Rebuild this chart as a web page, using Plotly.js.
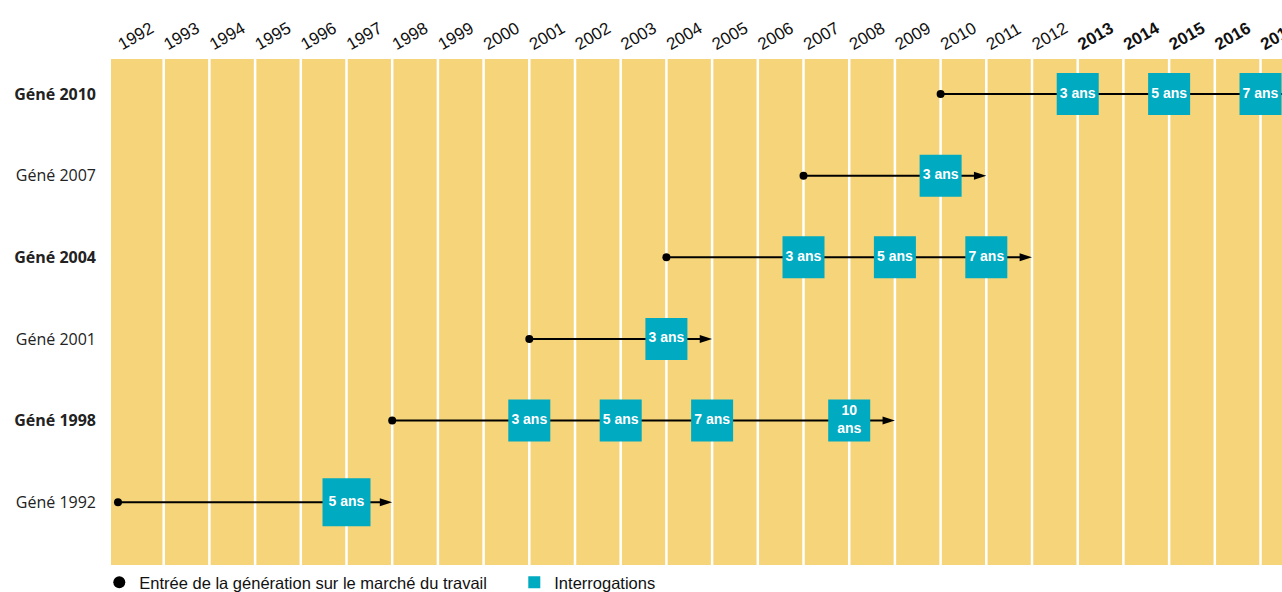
<!DOCTYPE html>
<html><head><meta charset="utf-8">
<script src="https://cdn.plot.ly/plotly-3.0.1.min.js"></script>
<style>html,body{margin:0;padding:0;background:#fff}#chart{width:1282px;height:592px}</style>
</head><body><div id="chart"></div>
<script>
// ---- data ----
const yearTicks = [1992,1993,1994,1995,1996,1997,1998,1999,2000,2001,2002,2003,2004,2005,2006,2007,2008,2009,2010,2011,2012,2013,2014,2015,2016,2017];
const boldYears = [2013,2014,2015,2016,2017];
const generations = ['Géné 1992','Géné 1998','Géné 2001','Géné 2004','Géné 2007','Géné 2010'];
const boldGenerations = ['Géné 1998','Géné 2004','Géné 2010'];
const entryYears = [1992,1998,2001,2004,2007,2010];
const surveyDelays = [[5],[3,5,7,10],[3],[3,5,7],[3],[3,5,7]];
const arrowEndYears = [1998,2009,2005,2012,2011,2018];
const legendEntry = 'Entrée de la génération sur le marché du travail';
const legendSurvey = 'Interrogations';

// ---- styles ----
const YELLOW = '#F6D479';
const TEAL = '#00AAC1';
const rowIdx = generations.map((g, i) => i);

// timeline lines with arrows
const lx = [], ly = [], lsym = [], lsize = [];
entryYears.forEach((e, i) => {
  lx.push(e, arrowEndYears[i], null);
  ly.push(i, i, null);
  lsym.push('circle', 'arrow', 'circle');
  lsize.push(8, 13, 0);
});
const lineTrace = {
  type: 'scatter', mode: 'lines+markers', x: lx, y: ly, showlegend: false,
  line: {color: '#000', width: 2}, cliponaxis: false, hoverinfo: 'skip',
  marker: {symbol: lsym, size: lsize, color: '#000', opacity: 1, line: {width: 0}, angleref: 'previous'}
};
const dotTrace = {
  type: 'scatter', mode: 'markers', x: entryYears, y: rowIdx, name: legendEntry,
  marker: {symbol: 'circle', size: 8, color: '#000'}, cliponaxis: false
};
const sx = [], sy = [], st = [], ss = [];
surveyDelays.forEach((ds, i) => {
  ds.forEach(d => {
    sx.push(entryYears[i] + d);
    sy.push(i);
    st.push(d >= 10 ? d + '<br>ans' : d + ' ans');
    ss.push(entryYears[i] === 1992 ? 48 : 42);
  });
});
const surveyTrace = {
  type: 'scatter', mode: 'markers+text', x: sx, y: sy, text: st, name: legendSurvey,
  textposition: 'middle center',
  textfont: {color: '#fff', size: 14, family: 'Liberation Sans, Arial, sans-serif', weight: 'bold'},
  marker: {symbol: 'square', size: ss, color: TEAL, opacity: 1, line: {width: 0}}, cliponaxis: false
};

const shapes = yearTicks.slice(1).map(y => ({
  type: 'line', xref: 'x', yref: 'paper', x0: y, x1: y, y0: 0, y1: 1,
  line: {color: '#fff', width: 2.5}, layer: 'below'
}));

const layout = {
  width: 1282, height: 592,
  margin: {l: 111, r: 0, t: 59, b: 27, autoexpand: false},
  paper_bgcolor: '#fff', plot_bgcolor: YELLOW,
  font: {family: 'Liberation Sans, Arial, sans-serif', color: '#111', size: 16},
  xaxis: {
    side: 'top', range: [1991.847, 2017.47], tickmode: 'array', tickvals: yearTicks,
    ticktext: yearTicks.map(y => boldYears.includes(y) ? '<b>' + y + '</b>' : String(y)),
    tickangle: -30, showgrid: false, zeroline: false, showline: false, ticks: '',
    ticklabeloverflow: 'allow', ticklabelstandoff: 3, automargin: false,
    tickfont: {size: 17, color: '#111'}, fixedrange: true
  },
  yaxis: {
    range: [-0.77, 5.43], tickmode: 'array', tickvals: rowIdx,
    ticktext: generations.map(g => boldGenerations.includes(g) ? '<b>' + g + '</b>' : g),
    showgrid: false, zeroline: false, showline: false, ticks: '', ticklabelstandoff: 14,
    automargin: false,
    tickfont: {family: 'Open Sans, Noto Sans, sans-serif', size: 16, color: '#222'}, fixedrange: true
  },
  shapes: shapes,
  showlegend: true,
  legend: {
    orientation: 'h', x: -0.01, xanchor: 'left', y: 0, yanchor: 'top',
    font: {size: 16.5, color: '#111'}, itemsizing: 'constant', entrywidth: 370,
    bgcolor: 'rgba(0,0,0,0)', tracegroupgap: 0
  }
};

Plotly.newPlot('chart', [lineTrace, dotTrace, surveyTrace], layout, {displayModeBar: false, staticPlot: true});
</script></body></html>
